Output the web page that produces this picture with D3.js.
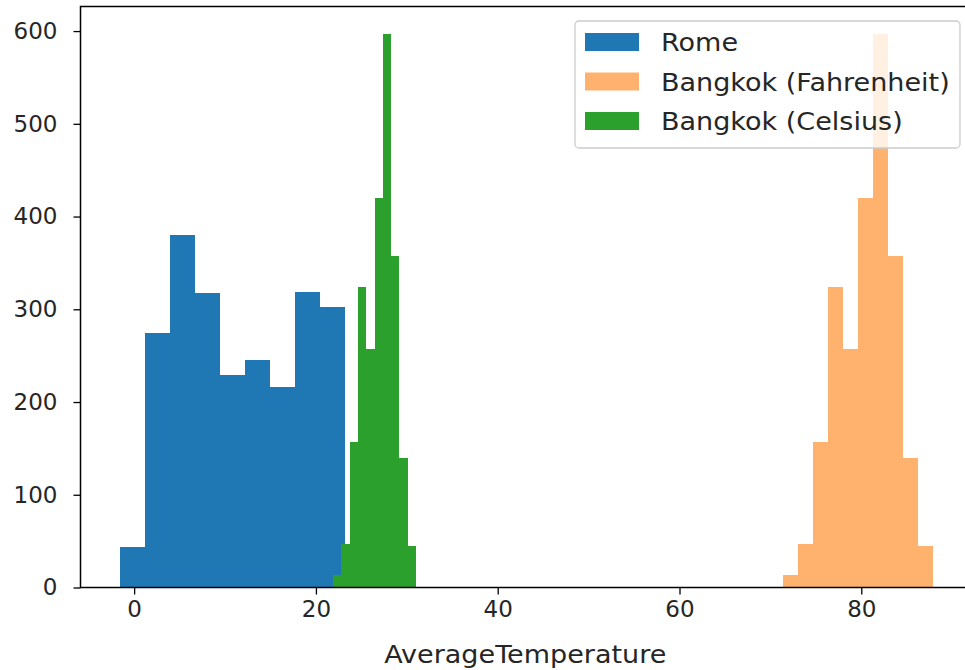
<!DOCTYPE html>
<html>
<head>
<meta charset="utf-8">
<script src="https://cdn.jsdelivr.net/npm/d3@7"></script>
<style>
	body { margin: 0; background: #fff; }
	svg { display: block; font-family: 'DejaVu Sans', sans-serif; }
</style>
</head>
<body>
<svg class="chart-container" width="965" height="670"></svg>
<script>
// histogram bins (bin edges in degrees, counts per bin)
const romeEdges = [-1.54, 1.21, 3.96, 6.71, 9.46, 12.21, 14.96, 17.71, 20.46, 23.21];
const romeCounts = [44, 274, 380, 318, 229, 245, 216, 319, 303];

const bangkokFEdges = [71.40, 73.04, 74.70, 76.33, 77.97, 79.63, 81.27, 82.90, 84.54, 86.20, 87.84];
const bangkokCEdges = [21.89, 22.80, 23.72, 24.63, 25.54, 26.46, 27.37, 28.28, 29.19, 30.11, 31.02];
const bangkokCounts = [13, 47, 157, 324, 257, 420, 597, 358, 140, 45];

const seriesNames = ['Rome', 'Bangkok (Fahrenheit)', 'Bangkok (Celsius)'];
const xTicks = [0, 20, 40, 60, 80];
const yTicks = [0, 100, 200, 300, 400, 500, 600];
const xLabel = 'AverageTemperature';

// margin conventions (right edge of the axes lies just outside the picture)
const margin = { top: 6.5, right: -9, bottom: 82.5, left: 80.5 };
const width = 965 - margin.left - margin.right;
const height = 670 - margin.top - margin.bottom;

const x = d3.scaleLinear().domain([-5.9, 92.4]).range([0, width]);
const y = d3.scaleLinear().domain([0, 626.5]).range([height, 0]);

// text in the picture is a little wider than it is tall
const stretch = 1.06;

const series = [
	{ name: seriesNames[0], edges: romeEdges, counts: romeCounts, color: '#1f77b4', opacity: 1 },
	{ name: seriesNames[1], edges: bangkokFEdges, counts: bangkokCounts, color: '#ff7f0e', opacity: 0.6 },
	{ name: seriesNames[2], edges: bangkokCEdges, counts: bangkokCounts, color: '#2ca02c', opacity: 1 }
];

const svg = d3.select('.chart-container');
const plot = svg.append('g').attr('transform', 'translate(' + margin.left + ',' + margin.top + ')');

// bars
series.forEach(function(s) {
	const bins = s.counts.map(function(c, i) { return { x0: s.edges[i], x1: s.edges[i + 1], n: c }; });
	plot.append('g')
		.attr('class', 'hist')
		.attr('fill', s.color)
		.attr('fill-opacity', s.opacity)
		.selectAll('rect')
		.data(bins)
		.enter()
		.append('rect')
		.attr('x', function(d) { return x(d.x0); })
		.attr('width', function(d) { return x(d.x1) - x(d.x0); })
		.attr('y', function(d) { return y(d.n); })
		.attr('height', function(d) { return y(0) - y(d.n); })
		.attr('shape-rendering', 'crispEdges');
});

// axes
const xAxis = plot.append('g')
	.attr('transform', 'translate(0,' + height + ')')
	.call(d3.axisBottom(x).tickValues(xTicks).tickSize(7).tickPadding(6).tickFormat(d3.format('d')));
const yAxis = plot.append('g')
	.call(d3.axisLeft(y).tickValues(yTicks).tickSize(7).tickPadding(16).tickFormat(d3.format('d')));

[xAxis, yAxis].forEach(function(a) {
	a.select('.domain').remove();
	a.selectAll('line').attr('stroke', '#000').attr('stroke-width', 1.3);
	a.selectAll('text').attr('fill', '#262626').style('font-size', '23px').style('font-family', "'DejaVu Sans', sans-serif");
});

// spines
plot.append('rect')
	.attr('x', 0).attr('y', 0)
	.attr('width', width).attr('height', height)
	.attr('fill', 'none')
	.attr('stroke', '#000')
	.attr('stroke-width', 1.5);

// x label
svg.append('text')
	.attr('transform', 'translate(' + (margin.left + width / 2 - 2) + ',663) scale(' + stretch + ',1)')
	.attr('text-anchor', 'middle')
	.attr('fill', '#262626')
	.style('font-size', '25.5px')
	.text(xLabel);

// legend
const legend = svg.append('g').attr('transform', 'translate(575,21)');
legend.append('rect')
	.attr('width', 385).attr('height', 127)
	.attr('rx', 4)
	.attr('fill', '#fff').attr('fill-opacity', 0.8)
	.attr('stroke', '#cccccc').attr('stroke-width', 1.3);

series.forEach(function(s, i) {
	const row = legend.append('g').attr('transform', 'translate(0,' + (21 + i * 39.5) + ')');
	row.append('rect')
		.attr('x', 10).attr('y', -9)
		.attr('width', 54).attr('height', 18)
		.attr('fill', s.color).attr('fill-opacity', s.opacity);
	row.append('text')
		.attr('transform', 'translate(86,9) scale(' + stretch + ',1)')
		.attr('fill', '#262626')
		.style('font-size', '25.5px')
		.text(s.name);
});
</script>
</body>
</html>
